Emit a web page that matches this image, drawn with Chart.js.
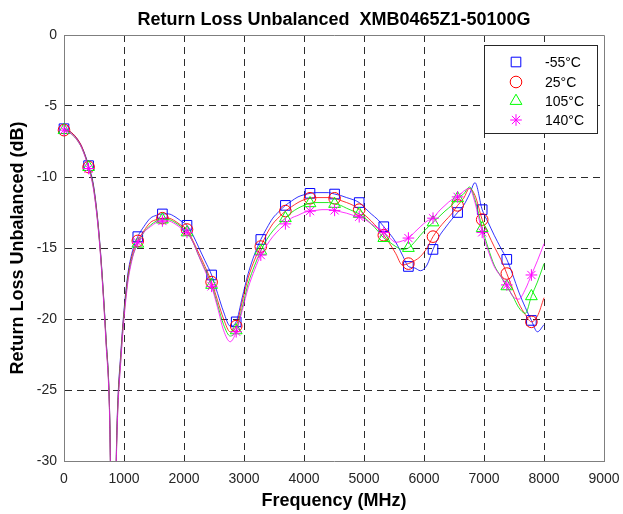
<!DOCTYPE html>
<html>
<head>
<meta charset="utf-8">
<script src="https://cdn.jsdelivr.net/npm/chart.js@4/dist/chart.umd.min.js"></script>
<style>
  html, body { margin: 0; padding: 0; background: #fff; }
  #wrap { width: 623px; height: 514px; }
</style>
</head>
<body>
<div id="wrap"><canvas id="rl"></canvas></div>
<script>
// Frequency points (MHz), markers every 410 MHz
const freqMHz = [
  0, 100, 200, 300, 410, 500, 600, 700, 760, 820, 880, 950, 1050, 1130, 1230,
  1330, 1440, 1540, 1640, 1740, 1850, 1950, 2050, 2150, 2250, 2350, 2460, 2560, 2660, 2770, 2870,
  2970, 3070, 3180, 3280, 3380, 3480, 3590, 3690, 3790, 3900, 4000, 4100, 4200, 4300, 4410, 4510, 4610, 4710, 4820, 4920,
  5020, 5120, 5230, 5330, 5430, 5530, 5640, 5740, 5840, 5940, 6050, 6150, 6250, 6350, 6460, 6560, 6660, 6760, 6850, 6970,
  7070, 7170, 7280, 7380, 7480, 7580, 7690, 7790, 7890, 8000
]
const markerStep = 410

const rlMinus55 = [
  -6.6, -6.8, -7.2, -7.9, -9.2, -10.8, -14.8, -21.3, -26.5, -42, -28, -22.2, -17.3, -15.4, -14.2,
  -13.5, -12.9, -12.7, -12.6, -12.6, -12.8, -13.1, -13.4, -14.1, -15.0, -15.9, -16.9, -18.2, -19.5, -20.5, -20.2,
  -18.5, -16.8, -15.4, -14.4, -13.6, -12.9, -12.4, -12.0, -11.7, -11.4, -11.25, -11.15, -11.1, -11.1, -11.1, -11.2, -11.3, -11.45, -11.6, -11.8,
  -12.2, -12.6, -13.0, -13.5, -14.0, -14.6, -15.5, -16.3, -16.4, -16.6, -16.2, -15.1, -14.2, -13.6, -13.0, -12.5, -12.0, -11.2, -10.4, -12.3,
  -13.2, -14.1, -15.0, -15.8, -16.9, -18.1, -19.2, -20.1, -20.9, -20.4
]
const rl25 = [
  -6.7, -6.8, -7.2, -7.9, -9.3, -10.9, -14.9, -21.4, -26.6, -42, -28.2, -22.4, -17.5, -15.6, -14.5,
  -13.8, -13.2, -13.0, -12.9, -12.9, -13.1, -13.4, -13.7, -14.5, -15.4, -16.3, -17.4, -18.7, -20.0, -20.9, -20.5,
  -18.8, -17.1, -15.8, -14.9, -14.0, -13.3, -12.8, -12.4, -12.1, -11.8, -11.6, -11.5, -11.45, -11.45, -11.45, -11.5, -11.65, -11.8, -12.0, -12.3,
  -12.7, -13.1, -13.6, -14.1, -14.7, -15.4, -16.2, -16.1, -15.9, -15.6, -15.0, -14.2, -13.6, -13.1, -12.6, -12.0, -11.5, -10.8, -11.3, -13.0,
  -14.0, -14.9, -15.8, -16.8, -17.9, -18.9, -19.7, -20.2, -19.8, -18.5
]
const rl105 = [
  -6.7, -6.9, -7.3, -8.0, -9.3, -11.0, -15.0, -21.5, -26.7, -42, -28.4, -22.6, -17.7, -15.8, -14.7,
  -13.9, -13.4, -13.1, -13.0, -13.0, -13.2, -13.5, -13.9, -14.6, -15.6, -16.5, -17.6, -19.0, -20.4, -21.2, -20.8,
  -19.2, -17.5, -16.2, -15.2, -14.4, -13.8, -13.3, -12.9, -12.5, -12.2, -12.0, -11.85, -11.8, -11.8, -11.8, -11.9, -12.0, -12.2, -12.4, -12.6,
  -12.9, -13.3, -13.8, -14.3, -14.6, -14.9, -15.1, -15.0, -14.6, -14.1, -13.6, -13.2, -12.8, -12.4, -12.0, -11.5, -11.2, -10.7, -11.6, -13.6,
  -15.0, -16.2, -17.0, -17.7, -18.4, -19.2, -19.6, -18.4, -17.4, -16.1
]
const rl140 = [
  -6.7, -6.9, -7.3, -8.0, -9.4, -11.1, -15.1, -21.7, -26.9, -42, -28.6, -22.8, -17.9, -15.9, -14.6,
  -13.9, -13.5, -13.2, -13.1, -13.1, -13.3, -13.6, -13.9, -14.6, -15.6, -16.6, -17.7, -19.2, -20.8, -21.6, -20.9,
  -19.4, -17.8, -16.5, -15.5, -14.8, -14.2, -13.7, -13.3, -12.9, -12.7, -12.5, -12.4, -12.35, -12.3, -12.3, -12.35, -12.45, -12.55, -12.7, -12.8,
  -13.0, -13.3, -13.6, -13.9, -14.3, -14.6, -14.5, -14.3, -13.9, -13.5, -13.1, -12.9, -12.4, -12.0, -11.6, -11.4, -11.0, -10.8, -11.8, -13.9,
  -15.2, -16.3, -17.0, -17.6, -18.4, -18.6, -17.9, -16.9, -15.9, -14.7
]

const seriesLabels = ['-55°C', '25°C', '105°C', '140°C']
const seriesColors = ['#0000ff', '#ff0000', '#00ff00', '#ff00ff']
const lineColors = ['rgba(0,0,255,0.8)', 'rgba(255,0,0,0.8)', 'rgba(0,230,0,0.85)', 'rgba(255,0,255,0.8)']
const seriesMarkers = ['rect', 'circle', 'triangle', 'star']
const markerSizes = [6.8, 5.8, 6.8, 5.8]
const seriesValues = [rlMinus55, rl25, rl105, rl140]

const FONT = "'Liberation Sans', Arial, Helvetica, sans-serif"
const GRID = 'rgba(20, 20, 20, 0.9)'
const BOX = '#7f7f7f'

const datasets = seriesValues.map((vals, s) => ({
  label: seriesLabels[s],
  data: freqMHz.map((f, i) => ({ x: f, y: vals[i] })),
  borderColor: lineColors[s],
  backgroundColor: 'rgba(0,0,0,0)',
  borderWidth: 1,
  cubicInterpolationMode: 'monotone',
  pointStyle: seriesMarkers[s],
  pointRadius: (ctx) => (freqMHz[ctx.dataIndex] % markerStep === 0 ? markerSizes[s] : 0),
  pointBorderColor: seriesColors[s],
  pointBackgroundColor: 'rgba(0,0,0,0)',
  pointBorderWidth: 1,
  order: 3 - s,
  clip: { left: 10, right: 0, top: 0, bottom: 0 }
}))

// box on top/right + legend inside the axes (like MATLAB)
const boxAndLegend = {
  id: 'boxAndLegend',
  afterDatasetsDraw(chart) {
    const { ctx, chartArea: a } = chart
    ctx.save()
    ctx.strokeStyle = BOX
    ctx.lineWidth = 1
    ctx.beginPath()
    ctx.moveTo(a.left, a.top + 0.5)
    ctx.lineTo(a.right + 0.5, a.top + 0.5)
    ctx.lineTo(a.right + 0.5, a.bottom)
    ctx.stroke()

    // legend
    const lx = 484, ly = 45, lw = 113, lh = 88
    ctx.fillStyle = '#fff'
    ctx.fillRect(lx, ly, lw, lh)
    ctx.strokeStyle = '#262626'
    ctx.strokeRect(lx + 0.5, ly + 0.5, lw, lh)
    ctx.font = '14px ' + FONT
    ctx.textBaseline = 'middle'
    ctx.textAlign = 'left'
    const rows = [62, 82, 101, 120]
    seriesLabels.forEach((lab, s) => {
      ctx.strokeStyle = seriesColors[s]
      ctx.fillStyle = 'rgba(0,0,0,0)'
      ctx.lineWidth = 1
      Chart.helpers.drawPoint(ctx, { pointStyle: seriesMarkers[s], radius: markerSizes[s], borderWidth: 1 }, 516, rows[s])
      ctx.fillStyle = '#000'
      ctx.fillText(lab, 545, rows[s] + 1)
    })
    ctx.restore()
  }
}

new Chart(document.getElementById('rl'), {
  type: 'line',
  data: { datasets },
  options: {
    responsive: true,
    maintainAspectRatio: false,
    animation: false,
    events: [],
    layout: { padding: { left: 0, right: 19, top: 0, bottom: 0 } },
    plugins: {
      legend: { display: false },
      tooltip: { enabled: false },
      title: {
        display: true,
        fullSize: false,
        text: 'Return Loss Unbalanced  XMB0465Z1-50100G',
        color: '#000',
        font: { family: FONT, size: 18, weight: 'bold' },
        padding: { top: 9, bottom: 4.4 }
      }
    },
    scales: {
      x: {
        type: 'linear',
        min: 0,
        max: 9000,
        afterFit: (scale) => {
          scale.height = 53
          scale.paddingLeft = 0
          scale.paddingRight = 0
        },
        ticks: {
          stepSize: 1000,
          color: '#262626',
          font: { family: FONT, size: 14 },
          padding: 10,
          maxRotation: 0,
          callback: (v) => String(v)
        },
        grid: {
          drawTicks: false,
          color: (ctx) => (ctx.tick && (ctx.tick.value === 0 || ctx.tick.value === 9000) ? 'rgba(0,0,0,0)' : GRID),
          lineWidth: 1
        },
        border: { color: BOX, width: 1, dash: [7, 5] },
        title: {
          display: true,
          text: 'Frequency (MHz)',
          color: '#000',
          font: { family: FONT, size: 18, weight: 'bold' },
          padding: { top: 0, bottom: 2 }
        }
      },
      y: {
        type: 'linear',
        min: -30,
        max: 0,
        afterFit: (scale) => {
          scale.width = 64
          scale.paddingTop = 0
          scale.paddingBottom = 0
        },
        ticks: {
          stepSize: 5,
          color: '#262626',
          font: { family: FONT, size: 14 },
          padding: 7,
          callback: (v) => String(v)
        },
        grid: {
          drawTicks: false,
          color: (ctx) => (ctx.tick && (ctx.tick.value === 0 || ctx.tick.value === -30) ? 'rgba(0,0,0,0)' : GRID),
          lineWidth: 1
        },
        border: { color: BOX, width: 1, dash: [7, 5] },
        title: {
          display: true,
          text: 'Return Loss Unbalanced (dB)',
          color: '#000',
          font: { family: FONT, size: 18, weight: 'bold' },
          padding: { top: 7, bottom: 0 }
        }
      }
    }
  },
  plugins: [boxAndLegend]
})
</script>
</body>
</html>
